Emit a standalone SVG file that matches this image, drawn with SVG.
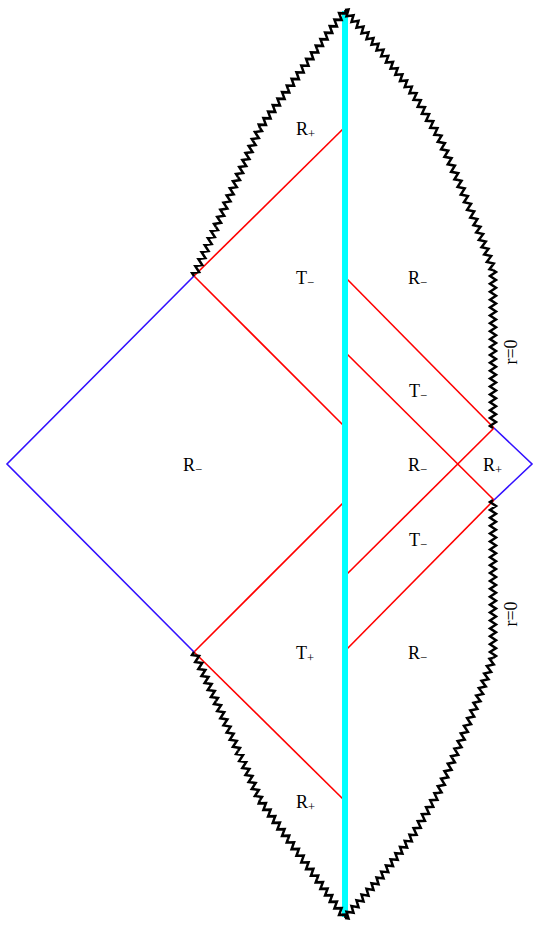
<svg xmlns="http://www.w3.org/2000/svg" xmlns:xlink="http://www.w3.org/1999/xlink" width="540" height="929" viewBox="0 0 540 929">
<style>
.red{stroke:#ff0000;stroke-width:1.6;fill:none}
.blue{stroke:#3311ff;stroke-width:1.6;fill:none}
.zz{stroke:#000000;stroke-width:2.5;fill:none;vector-effect:non-scaling-stroke;stroke-linejoin:miter}
.axis{stroke:#00ffff;stroke-width:6;fill:none}
.lbl{font-family:"Liberation Serif","Times New Roman",serif;font-size:18px;fill:#000000}
.sub{font-size:12.5px}
</style>
<defs>
<path id="zz6" class="zz" vector-effect="non-scaling-stroke" d="M0,0l.041667-3 .083333 6 .083333-6 .083333 6 .083333-6 .083333 6 .083333-6 .083333 6 .083333-6 .083333 6 .083333-6 .083333 6 .041667-3"/>
<path id="zz7" class="zz" vector-effect="non-scaling-stroke" d="M0,0l.035714-3 .071429 6 .071429-6 .071429 6 .071429-6 .071429 6 .071429-6 .071429 6 .071429-6 .071429 6 .071429-6 .071429 6 .071429-6 .071429 6 .035714-3"/>
<path id="zz20" class="zz" vector-effect="non-scaling-stroke" d="M0,0l.0125-3 .025 6 .025-6 .025 6 .025-6 .025 6 .025-6 .025 6 .025-6 .025 6 .025-6 .025 6 .025-6 .025 6 .025-6 .025 6 .025-6 .025 6 .025-6 .025 6 .025-6 .025 6 .025-6 .025 6 .025-6 .025 6 .025-6 .025 6 .025-6 .025 6 .025-6 .025 6 .025-6 .025 6 .025-6 .025 6 .025-6 .025 6 .025-6 .025 6 .0125-3"/>
</defs>

<g id="connectors">
  <g id="horizons-red">
    <line class="red" x1="194" y1="276" x2="345" y2="127"/>
    <line class="red" x1="194" y1="276" x2="345" y2="427"/>
    <line class="red" x1="345" y1="501" x2="194" y2="652"/>
    <line class="red" x1="194" y1="652" x2="345" y2="801"/>
    <line class="red" x1="345" y1="277" x2="494" y2="428"/>
    <line class="red" x1="345" y1="352" x2="494" y2="500"/>
    <line class="red" x1="345" y1="576" x2="494" y2="428"/>
    <line class="red" x1="345" y1="651" x2="494" y2="500"/>
  </g>
  <g id="infinity-blue">
    <polyline class="blue" points="194,276 7,464 194,652"/>
    <polyline class="blue" points="494,428 532,464 494,500"/>
  </g>
  <line id="axis" class="axis" x1="345" y1="11" x2="345" y2="917"/>
</g>

<g id="singularity-top">
  <use href="#zz6" transform="matrix(-28,39,-0.812,-0.583,345,10)"/>
  <use href="#zz6" transform="matrix(-29,40,-0.810,-0.587,317,49)"/>
  <use href="#zz6" transform="matrix(-28,39,-0.812,-0.583,288,89)"/>
  <use href="#zz7" transform="matrix(-22,49,-0.912,-0.410,260,128)"/>
  <use href="#zz7" transform="matrix(-22,50,-0.915,-0.403,238,177)"/>
  <use href="#zz7" transform="matrix(-22,49,-0.912,-0.410,216,227)"/>
  <use href="#zz7" transform="matrix(35,40,-0.753,0.659,345,10)"/>
  <use href="#zz7" transform="matrix(33,43,-0.793,0.609,380,50)"/>
  <use href="#zz6" transform="matrix(25,42,-0.859,0.511,413,93)"/>
  <use href="#zz6" transform="matrix(20,45,-0.914,0.406,438,135)"/>
  <use href="#zz6" transform="matrix(19,46,-0.924,0.382,458,180)"/>
  <use href="#zz6" transform="matrix(16,44,-0.940,0.342,477,226)"/>
  <use href="#zz20" transform="matrix(0,158,-1,0,493,270)"/>
</g>
<use id="singularity-bottom" href="#singularity-top" transform="matrix(1,0,0,-1,0,928)"/>

<g id="labels">
  <g id="region-R-plus-top"><text class="lbl" x="296" y="135">R<tspan class="sub" dy="3">+</tspan></text></g>
  <g id="region-T-minus-left"><text class="lbl" x="296" y="284">T<tspan class="sub" dy="3">−</tspan></text></g>
  <g id="region-R-minus-upper"><text class="lbl" x="408" y="284">R<tspan class="sub" dy="3">−</tspan></text></g>
  <g id="region-T-minus-right"><text class="lbl" x="409" y="397">T<tspan class="sub" dy="3">−</tspan></text></g>
  <g id="region-R-minus-left"><text class="lbl" x="183" y="471">R<tspan class="sub" dy="3">−</tspan></text></g>
  <g id="region-R-minus-mid"><text class="lbl" x="408" y="471">R<tspan class="sub" dy="3">−</tspan></text></g>
  <g id="region-R-plus-right"><text class="lbl" x="483" y="471">R<tspan class="sub" dy="3">+</tspan></text></g>
  <g id="region-T-minus-lower"><text class="lbl" x="409" y="546">T<tspan class="sub" dy="3">−</tspan></text></g>
  <g id="region-T-plus"><text class="lbl" x="296" y="659">T<tspan class="sub" dy="3">+</tspan></text></g>
  <g id="region-R-minus-lower"><text class="lbl" x="408" y="659">R<tspan class="sub" dy="3">−</tspan></text></g>
  <g id="region-R-plus-bottom"><text class="lbl" x="296" y="808">R<tspan class="sub" dy="3">+</tspan></text></g>
  <g id="label-r0-upper"><text class="lbl" font-size="17" text-anchor="middle" transform="translate(517,352) rotate(-90)">r=0</text></g>
  <g id="label-r0-lower"><text class="lbl" font-size="17" text-anchor="middle" transform="translate(517,614) rotate(-90)">r=0</text></g>
</g>
</svg>
